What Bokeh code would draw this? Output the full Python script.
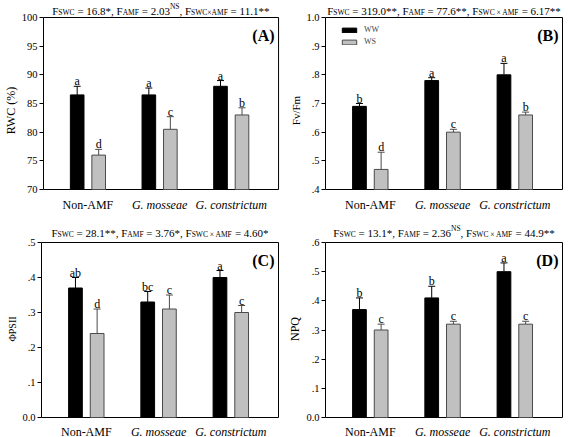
from bokeh.plotting import figure
from bokeh.layouts import column, row
from bokeh.models import (Range1d, Label, FixedTicker, ColumnDataSource,
                          Whisker, TeeHead, Legend, LegendItem)
from bokeh.core.properties import value
from bokeh.embed import file_html
from bokeh.resources import INLINE

# ---------------- data ----------------
groups = ["Non-AMF", "G. mosseae", "G. constrictum"]
group_styles = ["normal", "italic", "italic"]
treatments = ["WW", "WS"]

rwc_ww = [86.5, 86.5, 88.0]
rwc_ww_err = [1.5, 1.2, 1.0]
rwc_ws = [76.0, 80.5, 83.0]
rwc_ws_err = [1.0, 2.2, 1.25]
rwc_ww_letters = ["a", "a", "a"]
rwc_ws_letters = ["d", "c", "b"]
rwc_ticks = [70, 75, 80, 85, 90, 95, 100]
rwc_tick_labels = ["70", "75", "80", "85", "90", "95", "100"]

fvfm_ww = [0.69, 0.78, 0.80]
fvfm_ww_err = [0.01, 0.01, 0.04]
fvfm_ws = [0.47, 0.60, 0.66]
fvfm_ws_err = [0.06, 0.01, 0.01]
fvfm_ww_letters = ["b", "a", "a"]
fvfm_ws_letters = ["d", "c", "b"]
fvfm_ticks = [0.4, 0.5, 0.6, 0.7, 0.8, 0.9, 1.0]
fvfm_tick_labels = [".4", ".5", ".6", ".7", ".8", ".9", "1.0"]

psii_ww = [0.37, 0.33, 0.40]
psii_ww_err = [0.03, 0.03, 0.02]
psii_ws = [0.24, 0.31, 0.30]
psii_ws_err = [0.07, 0.04, 0.02]
psii_ww_letters = ["ab", "bc", "a"]
psii_ws_letters = ["d", "c", "c"]
psii_ticks = [0.0, 0.1, 0.2, 0.3, 0.4, 0.5]
psii_tick_labels = ["0.0", ".1", ".2", ".3", ".4", ".5"]

npq_ww = [0.37, 0.41, 0.50]
npq_ww_err = [0.04, 0.04, 0.03]
npq_ws = [0.30, 0.32, 0.32]
npq_ws_err = [0.02, 0.01, 0.01]
npq_ww_letters = ["b", "b", "a"]
npq_ws_letters = ["c", "c", "c"]
npq_ticks = [0.0, 0.1, 0.2, 0.3, 0.4, 0.5, 0.6]
npq_tick_labels = ["0.0", ".1", ".2", ".3", ".4", ".5", ".6"]

title_a = [("F", "n"), ("SWC", "sub"), (" = 16.8*, F", "n"), ("AMF", "sub"),
           (" = 2.03", "n"), ("NS", "sup"), (", F", "n"), ("SWC×AMF", "sub"), (" = 11.1**", "n")]
title_b = [("F", "n"), ("SWC", "sub"), (" = 319.0**, F", "n"), ("AMF", "sub"),
           (" = 77.6**, F", "n"), ("SWC × AMF", "sub"), (" = 6.17**", "n")]
title_c = [("F", "n"), ("SWC", "sub"), (" = 28.1**, F", "n"), ("AMF", "sub"),
           (" = 3.76*, F", "n"), ("SWC × AMF", "sub"), (" = 4.60*", "n")]
title_d = [("F", "n"), ("SWC", "sub"), (" = 13.1*, F", "n"), ("AMF", "sub"),
           (" = 2.36", "n"), ("NS", "sup"), (", F", "n"), ("SWC × AMF", "sub"), (" = 44.9**", "n")]

# ---------------- styling / layout ----------------
FONT = "Liberation Serif"
FONT_VALUE = value(FONT)
WW_COLOR = "#000000"
WS_COLOR = "#c0c0c0"
WS_LINE = "#4a4a4a"
BAR_W = 0.19
OFFSET = 0.15
XS, XE = 0.38, 3.66          # x extent of the boxed plot area
FIG_W = 284
LEFT = 41                    # left axis panel
BOX_W = 237                  # boxed area width in px

# Times / Liberation Serif advance widths (1/1000 em)
CW = {' ': 250, '*': 500, ',': 250, '.': 250, '=': 564, '×': 564, '(': 333, ')': 333,
      'A': 722, 'C': 667, 'F': 556, 'M': 889, 'N': 722, 'S': 556, 'W': 944}


def text_w(s, size):
    return sum(CW.get(c, 500) for c in s) * size / 1000.0


def lab(p, x, y, text, xo=0, yo=0, size="12px", style="normal", align="center"):
    p.add_layout(Label(x=x, y=y, x_offset=xo, y_offset=yo, text=text, text_font=FONT,
                       text_font_size=size, text_font_style=style, text_align=align,
                       text_baseline="alphabetic", text_color="black"))


def rich_title(p, pieces, y1, y_off):
    sizes = {"n": 11.0, "sub": 7.5, "sup": 7.5}
    dy = {"n": 0, "sub": -2, "sup": 4}
    total = sum(text_w(t, sizes[k]) for t, k in pieces)
    xc = (XS + XE) / 2.0
    cur = -total / 2.0
    for t, k in pieces:
        lead = len(t) - len(t.lstrip())
        lab(p, xc, y1, t.strip(), xo=cur + text_w(t[:lead], sizes[k]), yo=y_off + dy[k],
            size=f"{sizes[k]}px", align="left")
        cur += text_w(t, sizes[k])


def panel(ww, ww_err, ws, ws_err, ww_let, ws_let, ticks, tick_labels, ylab, ylab_size,
          title, tag, top_row, legend=False):
    y0, y1 = ticks[0], ticks[-1]
    if top_row:
        h, box_top, box_h, t_off, x_off = 220, 17, 172, 7, -15
    else:
        h, box_top, box_h, t_off, x_off = 217, 22, 175, 10, -14
    box_bot = box_top + box_h
    upp = (y1 - y0) / box_h
    y_start = y0 - (h - box_bot) * upp
    y_end = y1 + box_top * upp
    fw = FIG_W - LEFT
    x_end = XS + (XE - XS) * fw / BOX_W

    p = figure(width=FIG_W, height=h, x_range=Range1d(XS, x_end), y_range=Range1d(y_start, y_end),
               x_axis_location=None, toolbar_location=None, output_backend="svg", title=None,
               min_border=0, min_border_left=LEFT, min_border_right=0,
               min_border_top=0, min_border_bottom=0)
    p.grid.visible = False
    p.outline_line_color = None
    p.background_fill_color = "white"
    p.border_fill_color = "white"

    ax = p.yaxis[0]
    ax.bounds = (y0, y1)
    ax.ticker = FixedTicker(ticks=ticks, minor_ticks=[])
    ax.major_label_overrides = {t: l for t, l in zip(ticks, tick_labels)}
    ax.major_tick_out = 4
    ax.major_tick_in = 0
    ax.axis_line_color = "black"
    ax.major_tick_line_color = "black"
    ax.major_label_text_font = FONT
    ax.major_label_text_font_size = "10.5px"
    ax.major_label_text_color = "black"
    ax.major_label_standoff = 2
    ax.axis_label = ylab
    ax.axis_label_text_font = FONT
    ax.axis_label_text_font_style = "normal"
    ax.axis_label_text_font_size = ylab_size
    ax.axis_label_text_color = "black"
    ax.axis_label_standoff = 1

    # plot box
    p.quad(left=[XS], right=[XE], bottom=[y0], top=[y1], fill_color=None,
           line_color="black", line_width=1)

    xs = [i + 1 for i in range(len(groups))]
    x_ww = [x - OFFSET for x in xs]
    x_ws = [x + OFFSET for x in xs]

    r_ww = p.vbar(x=x_ww, top=ww, bottom=y0, width=BAR_W, fill_color=WW_COLOR,
                  line_color=WW_COLOR, line_width=1)
    r_ws = p.vbar(x=x_ws, top=ws, bottom=y0, width=BAR_W, fill_color=WS_COLOR,
                  line_color=WS_LINE, line_width=1)

    for xv, v, e, lets, col in ((x_ww, ww, ww_err, ww_let, "black"),
                                (x_ws, ws, ws_err, ws_let, WS_LINE)):
        up = [a + b for a, b in zip(v, e)]
        src = ColumnDataSource(dict(x=xv, top=v, up=up))
        p.add_layout(Whisker(base="x", upper="up", lower="top", source=src, dimension="height",
                             line_color=col, line_width=1,
                             upper_head=TeeHead(size=7, line_color=col, line_width=1),
                             lower_head=None))
        tsrc = ColumnDataSource(dict(x=xv, y=[u + 5 * upp for u in up], t=lets))
        p.text(x="x", y="y", text="t", source=tsrc, text_align="center",
               text_baseline="alphabetic", text_font=FONT_VALUE, text_font_size="12px",
               text_color="#000000")

    for xv, g, st in zip(xs, groups, group_styles):
        lab(p, xv, y0, g, yo=x_off, size="12px", style=st)

    lab(p, XE, y1, tag, xo=-4, yo=-18, size="16px", style="bold", align="right")

    rich_title(p, title, y1, t_off)

    if legend:
        lg = Legend(items=[LegendItem(label=treatments[0], renderers=[r_ww]),
                           LegendItem(label=treatments[1], renderers=[r_ws])],
                    location=(15, h - (box_top + 10) - 19), glyph_width=18, glyph_height=6,
                    label_text_font=FONT, label_text_font_size="8px", label_height=8,
                    label_standoff=6, spacing=3, padding=0, margin=0,
                    border_line_alpha=0, background_fill_alpha=0)
        p.add_layout(lg)
    return p


pa = panel(rwc_ww, rwc_ww_err, rwc_ws, rwc_ws_err, rwc_ww_letters, rwc_ws_letters,
           rwc_ticks, rwc_tick_labels, "RWC (%)", "12px", title_a, "(A)", True)
pb = panel(fvfm_ww, fvfm_ww_err, fvfm_ws, fvfm_ws_err, fvfm_ww_letters, fvfm_ws_letters,
           fvfm_ticks, fvfm_tick_labels, "Fv/Fm", "11px", title_b, "(B)", True, legend=True)
pc = panel(psii_ww, psii_ww_err, psii_ws, psii_ws_err, psii_ww_letters, psii_ws_letters,
           psii_ticks, psii_tick_labels, "ΦPSII", "10px", title_c, "(C)", False)
pd = panel(npq_ww, npq_ww_err, npq_ws, npq_ws_err, npq_ww_letters, npq_ws_letters,
           npq_ticks, npq_tick_labels, "NPQ", "12px", title_d, "(D)", False)

layout = column(row(pa, pb), row(pc, pd))
open("out.html", "w").write(file_html(layout, INLINE))
